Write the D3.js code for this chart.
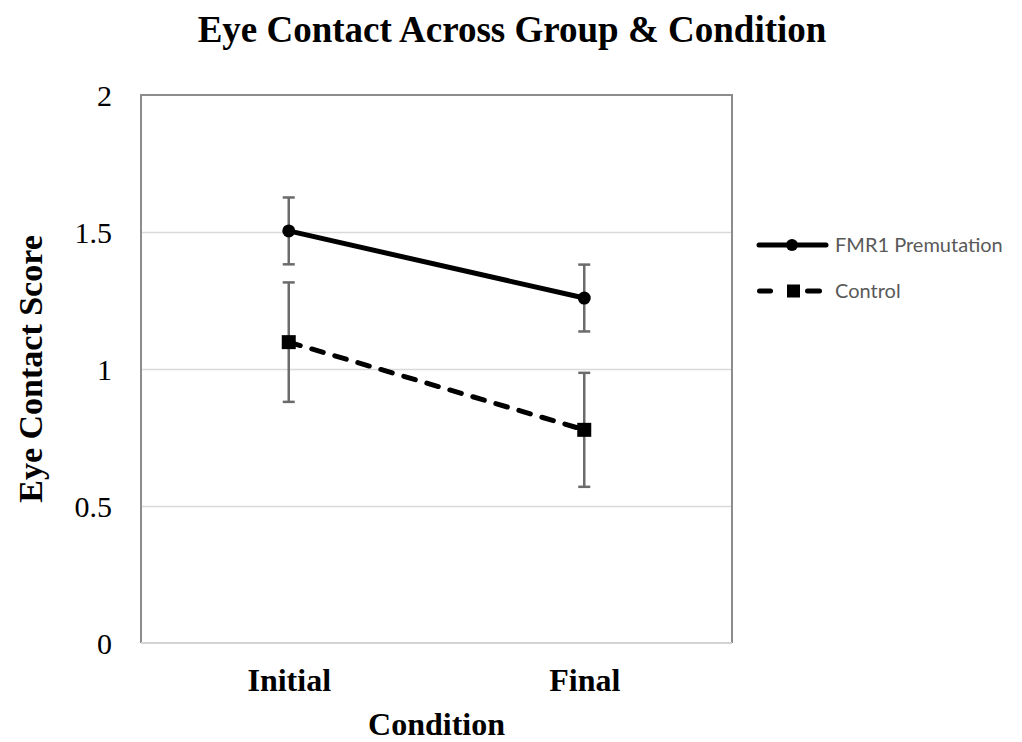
<!DOCTYPE html>
<html>
<head>
<meta charset="utf-8">
<script src="https://cdn.jsdelivr.net/npm/d3@7"></script>
<style>
  html, body { margin: 0; padding: 0; background: #fff; }
  svg { display: block; }
</style>
</head>
<body>
<svg id="chart" width="1022" height="742"></svg>
<script>
// ---- data ----
const categories = ["Initial", "Final"];
const seriesNames = ["FMR1 Premutation", "Control"];
const fmr1Means = [1.504, 1.259];
const fmr1Errors = [0.122, 0.122];
const controlMeans = [1.098, 0.778];
const controlErrors = [0.218, 0.208];
const yTicks = [0, 0.5, 1, 1.5, 2];
const titleText = "Eye Contact Across Group & Condition";
const xTitle = "Condition";
const yTitle = "Eye Contact Score";

// ---- layout ----
const svg = d3.select("#chart");
const plot = { left: 141, right: 732, top: 95, bottom: 643 };
const serif = "'Liberation Serif', 'Times New Roman', serif";

const x = d3.scalePoint().domain(categories).range([plot.left, plot.right]).padding(0.5);
const y = d3.scaleLinear().domain([0, 2]).range([plot.bottom, plot.top]);

// gridlines
const grid = svg.append("g")
  .attr("transform", `translate(${plot.left},0)`)
  .call(d3.axisLeft(y).tickValues(yTicks.filter(t => t > 0 && t < 2)).tickSize(-(plot.right - plot.left)).tickFormat(""));
grid.select(".domain").remove();
grid.selectAll(".tick line").attr("stroke", "#d9d9d9").attr("stroke-width", 1.5);

// plot border
svg.append("path")
  .attr("d", `M${plot.left},${plot.bottom} V${plot.top} H${plot.right} V${plot.bottom}`)
  .attr("fill", "none").attr("stroke", "#8c8c8c").attr("stroke-width", 2);
svg.append("line")
  .attr("x1", plot.left).attr("x2", plot.right)
  .attr("y1", plot.bottom).attr("y2", plot.bottom)
  .attr("stroke", "#d4d4d4").attr("stroke-width", 2);

// y axis labels
const yAxis = svg.append("g")
  .attr("transform", `translate(${plot.left - 29},0)`)
  .call(d3.axisLeft(y).tickValues(yTicks).tickSize(0).tickPadding(0).tickFormat(d3.format("")));
yAxis.select(".domain").remove();
yAxis.selectAll("text")
  .attr("font-family", serif).attr("font-size", 30).attr("fill", "#000")
  .attr("dy", "0.34em");

// x axis labels
const xAxis = svg.append("g")
  .attr("transform", `translate(0,${plot.bottom})`)
  .call(d3.axisBottom(x).tickSize(0).tickPadding(0));
xAxis.select(".domain").remove();
xAxis.selectAll("text")
  .attr("font-family", serif).attr("font-size", 32).attr("font-weight", "bold").attr("fill", "#000")
  .attr("dy", null).attr("y", 48);

// titles
svg.append("text")
  .attr("x", 512).attr("y", 42)
  .attr("text-anchor", "middle")
  .attr("font-family", serif).attr("font-size", 37).attr("font-weight", "bold")
  .text(titleText);
svg.append("text")
  .attr("x", (plot.left + plot.right) / 2).attr("y", 735)
  .attr("text-anchor", "middle")
  .attr("font-family", serif).attr("font-size", 32).attr("font-weight", "bold")
  .text(xTitle);
svg.append("text")
  .attr("transform", `translate(42,${(plot.top + plot.bottom) / 2}) rotate(-90)`)
  .attr("text-anchor", "middle")
  .attr("font-family", serif).attr("font-size", 34).attr("font-weight", "bold")
  .text(yTitle);

// series
const series = [
  { name: seriesNames[0], means: fmr1Means, errs: fmr1Errors, dash: null, marker: "circle" },
  { name: seriesNames[1], means: controlMeans, errs: controlErrors, dash: "12,12", marker: "square" }
];

const errColor = "#6b6b6b";
const capW = 12;
series.forEach(s => {
  const pts = categories.map((c, i) => ({ c, v: s.means[i], e: s.errs[i] }));
  const g = svg.append("g");
  pts.forEach(p => {
    g.append("line")
      .attr("x1", x(p.c)).attr("x2", x(p.c))
      .attr("y1", y(p.v + p.e)).attr("y2", y(p.v - p.e))
      .attr("stroke", errColor).attr("stroke-width", 2.5);
    [p.v + p.e, p.v - p.e].forEach(v => {
      g.append("line")
        .attr("x1", x(p.c) - capW / 2).attr("x2", x(p.c) + capW / 2)
        .attr("y1", y(v)).attr("y2", y(v))
        .attr("stroke", errColor).attr("stroke-width", 2.5);
    });
  });
});
series.forEach(s => {
  const pts = categories.map((c, i) => ({ c, v: s.means[i] }));
  const line = d3.line().x(d => x(d.c)).y(d => y(d.v));
  svg.append("path")
    .datum(pts)
    .attr("d", line)
    .attr("fill", "none").attr("stroke", "#000").attr("stroke-width", 5)
    .attr("stroke-linecap", "round")
    .attr("stroke-dasharray", s.dash);
  pts.forEach(p => {
    if (s.marker === "circle") {
      svg.append("circle").attr("cx", x(p.c)).attr("cy", y(p.v)).attr("r", 6.5).attr("fill", "#000");
    } else {
      svg.append("rect").attr("x", x(p.c) - 7).attr("y", y(p.v) - 7).attr("width", 14).attr("height", 14).attr("fill", "#000");
    }
  });
});

// legend
const legFont = "Lato, 'Open Sans', sans-serif";
const leg = svg.append("g");
leg.append("line").attr("x1", 759).attr("x2", 826).attr("y1", 245).attr("y2", 245)
  .attr("stroke", "#000").attr("stroke-width", 5).attr("stroke-linecap", "round");
leg.append("circle").attr("cx", 792).attr("cy", 245).attr("r", 6).attr("fill", "#000");
leg.append("text").attr("x", 835).attr("y", 245).attr("dy", "0.35em")
  .attr("font-family", legFont).attr("font-size", 20).attr("fill", "#595959")
  .text(seriesNames[0]);
[[759.5, 770.5], [807.5, 819.5]].forEach(([a, b]) => {
  leg.append("line").attr("x1", a).attr("x2", b).attr("y1", 291).attr("y2", 291)
    .attr("stroke", "#000").attr("stroke-width", 5).attr("stroke-linecap", "round");
});
leg.append("rect").attr("x", 787).attr("y", 284.5).attr("width", 13).attr("height", 13).attr("fill", "#000");
leg.append("text").attr("x", 835).attr("y", 291).attr("dy", "0.35em")
  .attr("font-family", legFont).attr("font-size", 20).attr("fill", "#595959")
  .text(seriesNames[1]);
</script>
</body>
</html>
